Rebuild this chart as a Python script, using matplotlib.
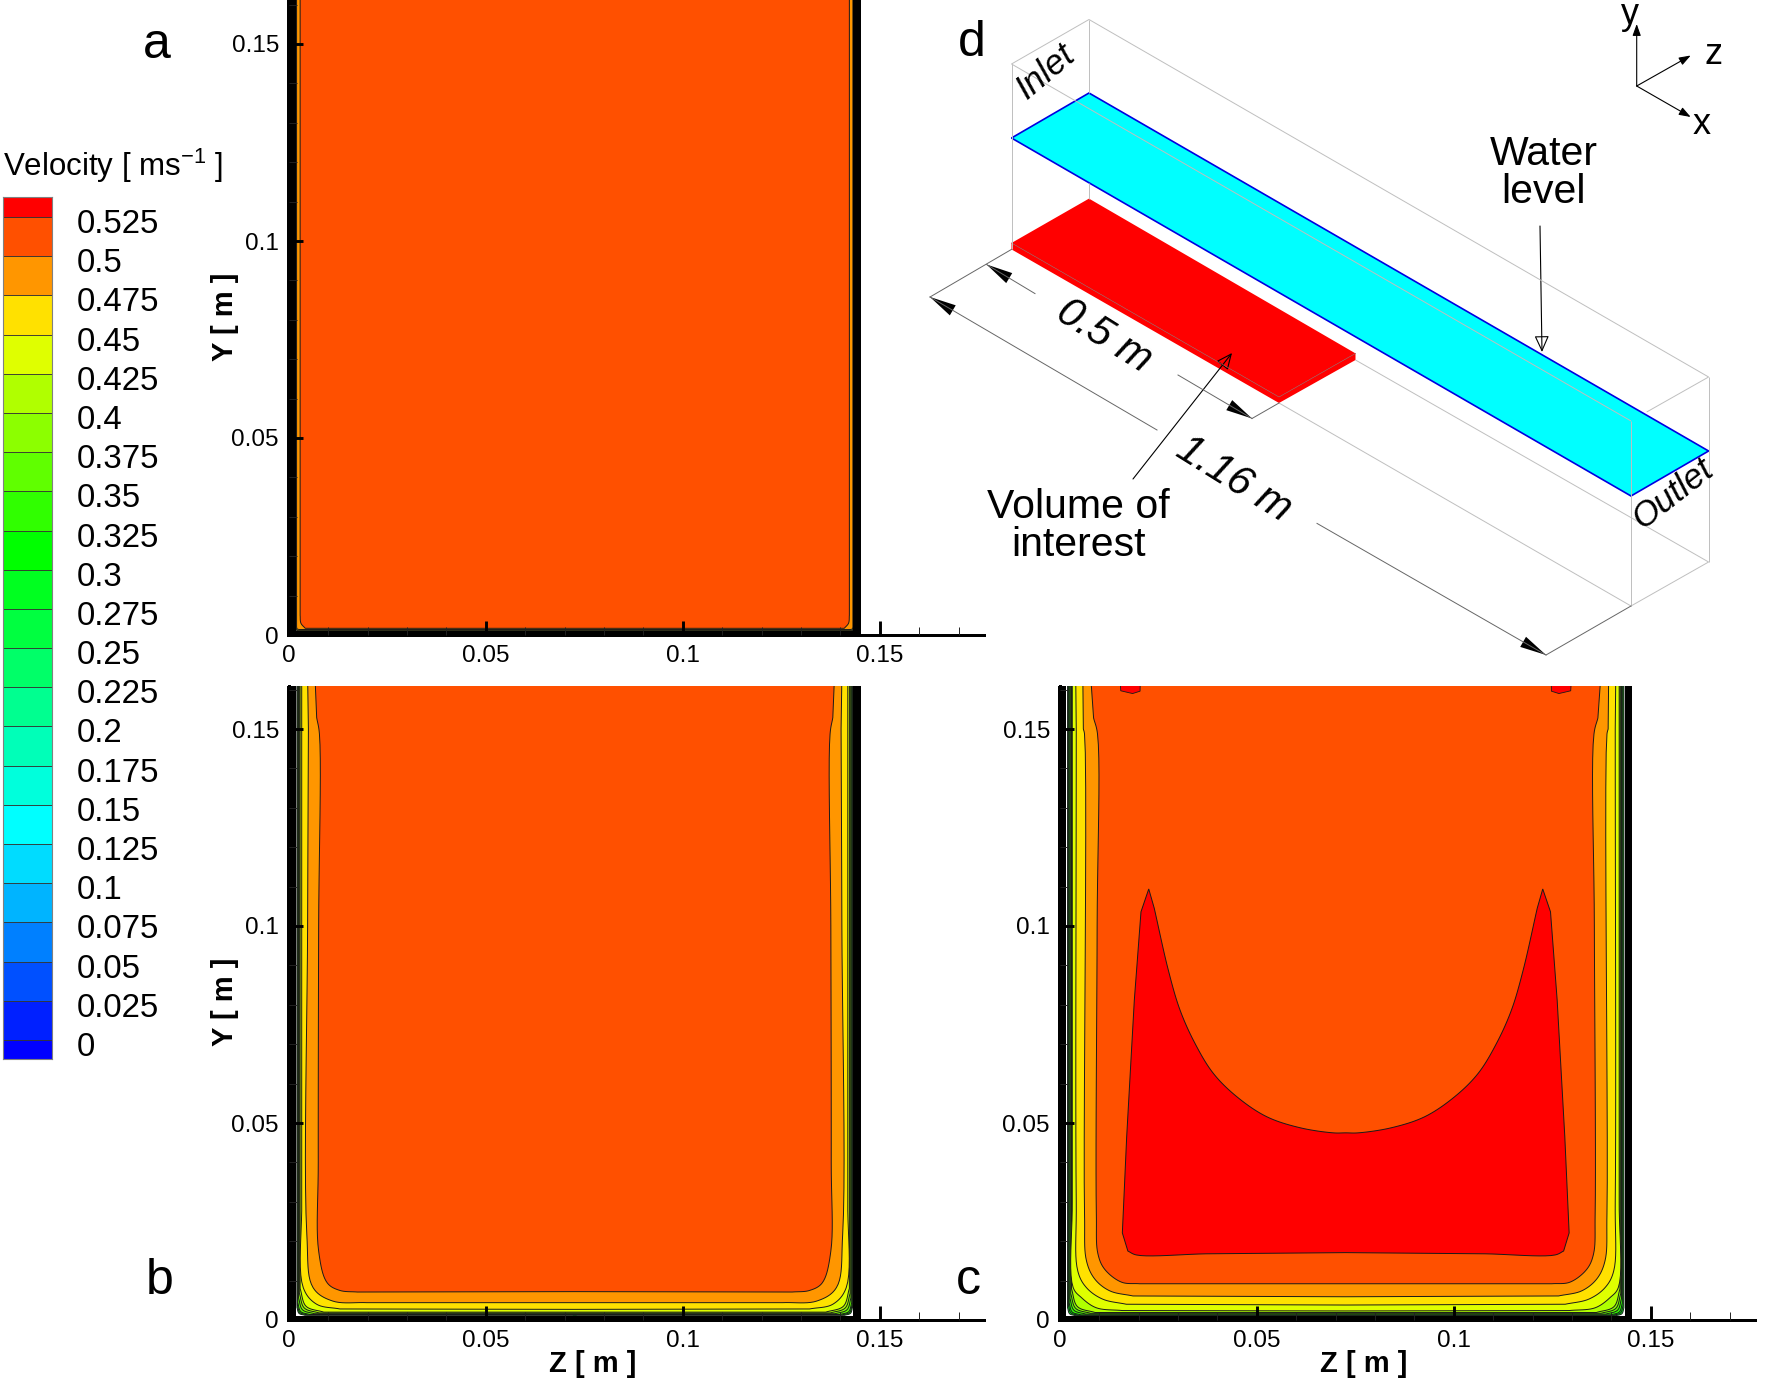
import matplotlib
matplotlib.use("Agg")
import matplotlib.pyplot as plt
import numpy as np
from matplotlib.patches import FancyArrowPatch, Polygon
from matplotlib.transforms import ScaledTranslation

plt.rcParams['font.family'] = ['Liberation Sans', 'DejaVu Sans']
plt.rcParams['mathtext.fontset'] = 'custom'
plt.rcParams['mathtext.rm'] = 'Liberation Sans'
plt.rcParams['mathtext.default'] = 'regular'

W, H, PX = 1770, 1384, 3940.0   # PX: pixels per metre on the flow panels

# ---- velocity levels and colours -------------------------------------------
level_labels = ['0', '0.025', '0.05', '0.075', '0.1', '0.125', '0.15', '0.175', '0.2', '0.225',
                '0.25', '0.275', '0.3', '0.325', '0.35', '0.375', '0.4', '0.425', '0.45',
                '0.475', '0.5', '0.525']
levels = [float(s) for s in level_labels]
band_colors = ['#0000FF', '#0020FF', '#0050FF', '#0080FF', '#00B4FF', '#00DCFF', '#00FFFF',
               '#00FFDC', '#00FFB8', '#00FF90', '#00FF68', '#00FF40', '#00FF20', '#00FF00',
               '#30FF00', '#60FF00', '#8CFF00', '#B0FF00', '#DFFF00', '#FFE100', '#FF9600',
               '#FF5000', '#FF0000']

# ---- iso-velocity outlines (left half, mirrored across the channel) --------
channel_width = 0.1452
wall_thickness_y = 0.0010

# near-wall contours: level, side offset z, floor offset y, corner size
a_near = [(0.475, 0.0020, 0.0014, 0.0006), (0.45, 0.00195, 0.0012, 0.0005), (0.425, 0.0019, 0.0011, 0.0004)]
a_500_z = [0.0029, 0.0029, 0.0031, 0.0042, 0.0726]
a_500_y = [0.17, 0.0050, 0.0030, 0.0017, 0.0017]

b_near = [(0.425, 0.0029, 0.0020, 0.0060), (0.4, 0.0027, 0.0018, 0.0050), (0.375, 0.0025, 0.0016, 0.0040),
          (0.35, 0.0023, 0.0014, 0.0030), (0.325, 0.0022, 0.0013, 0.0025), (0.3, 0.0021, 0.0012, 0.0020)]
b_450_z = [0.0033, 0.0033, 0.0037, 0.0071, 0.0130, 0.0726]
b_450_y = [0.17, 0.03, 0.0082, 0.0040, 0.0028, 0.0027]
b_475_z = [0.0047, 0.0050, 0.0048, 0.0046, 0.0062, 0.0112, 0.0198, 0.0726]
b_475_y = [0.17, 0.15, 0.10, 0.0217, 0.0082, 0.0048, 0.0044, 0.0044]
b_500_z = [0.0064, 0.0071, 0.0078, 0.0076, 0.0075, 0.0076, 0.0098, 0.0130, 0.0174, 0.0726]
b_500_y = [0.17, 0.1529, 0.1487, 0.10, 0.04, 0.0175, 0.0094, 0.0075, 0.0071, 0.0072]

c_near = [(0.4, 0.0030, 0.0019, 0.0060), (0.375, 0.0028, 0.0017, 0.0050), (0.35, 0.0026, 0.0015, 0.0040),
          (0.325, 0.0024, 0.0013, 0.0030), (0.3, 0.0022, 0.0012, 0.0025), (0.275, 0.0020, 0.0011, 0.0020)]
c_425_z = [0.0032, 0.0032, 0.0034, 0.0055, 0.0093, 0.0159, 0.0726]
c_425_y = [0.17, 0.03, 0.0083, 0.0057, 0.0031, 0.0024, 0.0023]
c_450_z = [0.0040, 0.0042, 0.0042, 0.0046, 0.0068, 0.0109, 0.0169, 0.0726]
c_450_y = [0.17, 0.15, 0.03, 0.0124, 0.0082, 0.0053, 0.0040, 0.0038]
c_475_z = [0.0058, 0.0060, 0.0063, 0.0063, 0.0068, 0.0089, 0.0127, 0.0186, 0.0726]
c_475_y = [0.17, 0.15, 0.1487, 0.027, 0.0150, 0.0104, 0.0074, 0.0061, 0.0059]
c_500_z = [0.0074, 0.0086, 0.0096, 0.0095, 0.0093, 0.0097, 0.0114, 0.0157, 0.0203, 0.0726]
c_500_y = [0.17, 0.1528, 0.1487, 0.10, 0.0269, 0.0168, 0.0129, 0.0096, 0.0092, 0.0092]
# the red region: floor run (curved), straight left side, sharp peak, curved inner run
c_525_floor_z = [0.0726, 0.0372, 0.0195, 0.0173, 0.0159]
c_525_floor_y = [0.0171, 0.0168, 0.0165, 0.0175, 0.0221]
c_525_side_z = [0.0170, 0.01894, 0.02063, 0.0226]
c_525_side_y = [0.0465, 0.0812, 0.1036, 0.1094]
c_525_inner_z = [0.0240, 0.02757, 0.03053, 0.03434, 0.03899, 0.04492, 0.05254, 0.06099, 0.06944, 0.0726]
c_525_inner_y = [0.1045, 0.0888, 0.0787, 0.0702, 0.0626, 0.0567, 0.0516, 0.0488, 0.0475, 0.0475]
c_blob_z = [0.0149, 0.0155, 0.0172, 0.0185, 0.0204, 0.0206, 0.0149]
c_blob_y = [0.17, 0.1597, 0.1593, 0.1590, 0.1596, 0.17, 0.17]

x_major = [0, 0.05, 0.1, 0.15]
x_major_labels = ['0', '0.05', '0.1', '0.15']
minor_ticks_x = [0.01, 0.02, 0.03, 0.04, 0.06, 0.07, 0.08, 0.09, 0.11, 0.12, 0.13, 0.14, 0.16, 0.17]
minor_ticks_y = [0.01, 0.02, 0.03, 0.04, 0.06, 0.07, 0.08, 0.09, 0.11, 0.12, 0.13, 0.14, 0.16]

# ---- schematic (panel d) vertices, image pixels ---------------------------
cyan_xy = [(1011.5, 138), (1089, 93), (1708.6, 451), (1631, 496)]
red_top_xy = [(1011.5, 243), (1089, 198.6), (1355.5, 353.4), (1279, 397)]
red_side_xy = [(1011.5, 243), (1279, 397), (1355.5, 353.4), (1355.5, 360), (1279, 403), (1011.5, 249.4)]
box_lines = [((1011.5, 64), (1089, 19.5)), ((1089, 19.5), (1708.6, 377)), ((1011.5, 64), (1631, 421)),
             ((1646.7, 412), (1708.6, 377)), ((1708.6, 377), (1708.6, 562)), ((1631, 421), (1631, 606)),
             ((1631, 606), (1708.6, 562)), ((1011.5, 64), (1011.5, 249.4)), ((1089, 19.5), (1089, 93)),
             ((1089, 183), (1089, 199)), ((1279, 403), (1631, 606)), ((1355.5, 360), (1708.6, 562))]
red_seam = [(1011.5, 243), (1279, 397), (1355.5, 353.4)]
dim_lines = [((1011.5, 249.4), (930, 297)), ((1279, 403), (1252, 418.5)), ((1631, 606), (1546, 655))]
dim_arrows = [((1035, 293.6), (986.6, 264.5)), ((1178, 375), (1252, 418.5)),
              ((1157, 430), (930, 297)), ((1317, 523.4), (1546, 655))]
hollow_arrows = [((1540, 226), (1542, 352)), ((1133, 479), (1232, 353))]
triad_arrows = [((1636.7, 86), (1636.7, 24)), ((1636.7, 86), (1690.7, 55.5)), ((1636.7, 86), (1690.7, 117))]


def spline_core(p, n=10):
    p = np.vstack([2 * p[0] - p[1], p, 2 * p[-1] - p[-2]])
    out = [p[1]]
    for i in range(1, len(p) - 2):
        p0, p1, p2, p3 = p[i - 1], p[i], p[i + 1], p[i + 2]
        t0 = 0.0
        t1 = t0 + np.linalg.norm(p1 - p0) ** 0.5 + 1e-9
        t2 = t1 + np.linalg.norm(p2 - p1) ** 0.5 + 1e-9
        t3 = t2 + np.linalg.norm(p3 - p2) ** 0.5 + 1e-9
        for t in np.linspace(t1, t2, n + 1)[1:]:
            a1 = (t1 - t) / (t1 - t0) * p0 + (t - t0) / (t1 - t0) * p1
            a2 = (t2 - t) / (t2 - t1) * p1 + (t - t1) / (t2 - t1) * p2
            a3 = (t3 - t) / (t3 - t2) * p2 + (t - t2) / (t3 - t2) * p3
            b1 = (t2 - t) / (t2 - t0) * a1 + (t - t0) / (t2 - t0) * a2
            b2 = (t3 - t) / (t3 - t1) * a2 + (t - t1) / (t3 - t1) * a3
            out.append((t2 - t) / (t2 - t1) * b1 + (t - t1) / (t2 - t1) * b2)
    return np.array(out)


def spline(z, y):
    """Centripetal Catmull-Rom through the read points; the long end runs stay straight."""
    p = np.column_stack([z, y]) * 1000.0
    mid = spline_core(p[1:-1]) if len(p) > 3 else p[1:-1]
    out = np.vstack([p[:1], mid, p[-1:]]) / 1000.0
    return list(out[:, 0]), list(out[:, 1])


def mirrored(z, y):
    zs = list(z) + [channel_width - v for v in reversed(z)]
    ys = list(y) + list(reversed(y))
    return zs, ys


def near_outline(zs, yf, r):
    return ([zs, zs, zs + 0.25 * r, zs + r, 0.0726], [0.17, yf + r, yf + 0.25 * r, yf, yf])


def band_above(level):
    return band_colors[levels.index(level) + 1]


def draw_flow(ax, base_color, contours):
    ax.fill(*mirrored([0, 0.0726], [0.17, 0.0]), color=base_color, lw=0, zorder=1)
    for lev, z, y in contours:
        ax.fill(*mirrored(*spline(z, y)), facecolor=band_above(lev), edgecolor='#1a1a1a', lw=0.7, zorder=1)


def style_panel(x0, ybot, ytop, wall_l, wall_r, xlabel, ylabel):
    x1 = x0 + 0.1765 * PX
    ax = fig.add_axes([x0 / W, 1 - ybot / H, (x1 - x0) / W, (ybot - ytop) / H])
    ax.set_facecolor('none')
    ax.set_xlim(0, 0.1765)
    top = (ybot - ytop) / PX
    ax.set_ylim(0, top)
    for s in ('top', 'right'):
        ax.spines[s].set_visible(False)
    for s in ('left', 'bottom'):
        ax.spines[s].set_linewidth(2.16)
    ax.set_xticks(x_major, x_major_labels)
    ax.set_yticks(x_major, x_major_labels)
    ax.set_xticks(minor_ticks_x, minor=True)
    ax.set_yticks([t for t in minor_ticks_y if t < top], minor=True)
    ax.tick_params(which='major', direction='in', length=10, width=2.1, labelsize=17.5, pad=7)
    ax.tick_params(which='minor', direction='in', length=6, width=0.7, color='#222222')
    ax.set_axisbelow(False)
    for rz, ry in (([-0.0004, wall_l, wall_l, -0.0004], [-0.0005, -0.0005, top, top]),
                   ([channel_width - wall_r, channel_width, channel_width, channel_width - wall_r], [-0.0005, -0.0005, top, top]),
                   ([-0.0004, channel_width, channel_width, -0.0004], [-0.0005, -0.0005, wall_thickness_y, wall_thickness_y])):
        ax.fill(rz, ry, color='black', lw=0, zorder=2, clip_on=False)
    if ylabel:
        ax.set_ylabel('Y [ m ]', fontsize=21, fontweight='bold', va='center')
        ax.yaxis.set_label_coords((224.6 - x0) / (x1 - x0), (ybot - ylabel) / (ybot - ytop))
    if xlabel:
        ax.set_xlabel('Z [ m ]', fontsize=21, fontweight='bold')
        ax.xaxis.set_label_coords(0.0771 / 0.1765, -(1364 - ybot) / (ybot - ytop))
        ax.xaxis.label.set_va('center')
    return ax


fig = plt.figure(figsize=(W / 100, H / 100), dpi=100)

# ---- panel a ----
ax_a = style_panel(288.7, 635, 0, 0.00185, 0.00195, False, 317)
draw_flow(ax_a, band_colors[17],
          [(l, *near_outline(z, y, r)) for l, z, y, r in reversed(a_near)] + [(0.5, a_500_z, a_500_y)])

# ---- panel b ----
ax_b = style_panel(288.7, 1320, 686, 0.00185, 0.00195, True, 1002)
draw_flow(ax_b, band_colors[11],
          [(l, *near_outline(z, y, r)) for l, z, y, r in reversed(b_near)] +
          [(0.45, b_450_z, b_450_y), (0.475, b_475_z, b_475_y), (0.5, b_500_z, b_500_y)])

# ---- panel c ----
ax_c = style_panel(1059.7, 1320, 686, 0.0016, 0.0017, True, None)
draw_flow(ax_c, band_colors[11],
          [(l, *near_outline(z, y, r)) for l, z, y, r in reversed(c_near)] +
          [(0.425, c_425_z, c_425_y), (0.45, c_450_z, c_450_y), (0.475, c_475_z, c_475_y),
           (0.5, c_500_z, c_500_y)])
floor = spline(c_525_floor_z, c_525_floor_y)
inner = spline_core(np.column_stack([c_525_inner_z, c_525_inner_y]) * 1000.0) / 1000.0
ax_c.fill(*mirrored(floor[0] + c_525_side_z + list(inner[:, 0]), floor[1] + c_525_side_y + list(inner[:, 1])),
          facecolor='#FF0000', edgecolor='#1a1a1a', lw=0.7, zorder=1)
for bz in (c_blob_z, [channel_width - v for v in c_blob_z]):
    ax_c.fill(bz, c_blob_y, facecolor='#FF0000', edgecolor='#1a1a1a', lw=0.6, zorder=1)

# ---- colour legend ----
bar_px_per_unit = 39.2 / 0.025
cb_bottom = -(1059 - 1040) / bar_px_per_unit
cb_top = 0.525 + (217 - 197) / bar_px_per_unit
ax_cb = fig.add_axes([3 / W, 1 - 1059 / H, 49 / W, (1059 - 197) / H])
edges = [cb_bottom] + levels + [cb_top]
for i, col in enumerate(band_colors):
    ax_cb.bar(0.5, edges[i + 1] - edges[i], 1.0, bottom=edges[i], color=col, edgecolor='#333333', linewidth=0.6)
ax_cb.set_xlim(0, 1)
ax_cb.set_ylim(cb_bottom, cb_top)
ax_cb.set_xticks([])
ax_cb.yaxis.tick_right()
ax_cb.set_yticks(levels, level_labels)
ax_cb.tick_params(axis='y', length=0, labelsize=23.8, pad=18)
shift = ScaledTranslation(0, -4 / 100, fig.dpi_scale_trans)
for lab in ax_cb.get_yticklabels():
    lab.set_transform(lab.get_transform() + shift)
for s in ax_cb.spines.values():
    s.set_color('#808080')
    s.set_linewidth(0.8)

# ---- overlay: panel letters, legend title, schematic ----
ax_d = fig.add_axes([0, 0, 1, 1], zorder=5)
ax_d.set_facecolor('none')
ax_d.set_xlim(0, W)
ax_d.set_ylim(H, 0)
ax_d.axis('off')

ax_d.text(3, 166, 'Velocity [ ms$^{-1}$ ]', fontsize=22.5, ha='left', va='center')
for ch, px, py in (('a', 157, 45), ('b', 160, 1281), ('c', 968, 1281), ('d', 972, 43)):
    ax_d.text(px, py, ch, fontsize=36, ha='center', va='center')

ax_d.add_patch(Polygon(red_side_xy, closed=True, facecolor='#FF0000', edgecolor='none'))
ax_d.add_patch(Polygon(red_top_xy, closed=True, facecolor='#FF0000', edgecolor='none'))
ax_d.plot(*zip(*red_seam), color='#a05050', lw=0.5)
ax_d.add_patch(Polygon(cyan_xy, closed=True, facecolor='#00FFFF', edgecolor='#0000E0', lw=1.2))
for (p, q) in box_lines:
    ax_d.plot([p[0], q[0]], [p[1], q[1]], color='#bfbfbf', lw=0.7, solid_capstyle='butt')
for (p, q) in dim_lines:
    ax_d.plot([p[0], q[0]], [p[1], q[1]], color='#666666', lw=0.7)
for (p, q) in dim_arrows:
    ax_d.plot([p[0], q[0]], [p[1], q[1]], color='#666666', lw=0.7)
    ax_d.add_patch(FancyArrowPatch(p, q, arrowstyle='-|>,head_length=1.9,head_width=0.42', mutation_scale=10,
                                   facecolor='black', edgecolor='black', lw=0, shrinkA=0, shrinkB=0))
for (p, q) in hollow_arrows:
    ax_d.add_patch(FancyArrowPatch(p, q, arrowstyle='-|>,head_length=1.0,head_width=0.45', mutation_scale=10,
                                   facecolor='none', edgecolor='black', lw=0.8, shrinkA=0, shrinkB=0))
for (p, q) in triad_arrows:
    ax_d.add_patch(FancyArrowPatch(p, q, arrowstyle='-|>,head_length=0.7,head_width=0.25', mutation_scale=10,
                                   color='black', lw=0.8, shrinkA=0, shrinkB=0))

for s, px, py in (('y', 1630, 15), ('z', 1713, 55), ('x', 1702, 124)):
    ax_d.text(px, py, s, fontsize=26, ha='center', va='center')
ax_d.text(1544, 173, 'Water\nlevel', fontsize=29.5, ha='center', va='center', linespacing=1.0)
ax_d.text(1078, 526, 'Volume of\ninterest', fontsize=29.5, ha='center', va='center', linespacing=1.0)
ax_d.text(1046, 72, 'Inlet', fontsize=25, style='italic', rotation=40, ha='center', va='center', rotation_mode='anchor')
ax_d.text(1673, 494, 'Outlet', fontsize=25, style='italic', rotation=38, ha='center', va='center', rotation_mode='anchor')
ax_d.text(1104, 336, '0.5 m', fontsize=30, style='italic', rotation=-32, ha='center', va='center', rotation_mode='anchor')
ax_d.text(1234, 479, '1.16 m', fontsize=30, style='italic', rotation=-32, ha='center', va='center', rotation_mode='anchor')

fig.savefig('out.png', dpi=100)
